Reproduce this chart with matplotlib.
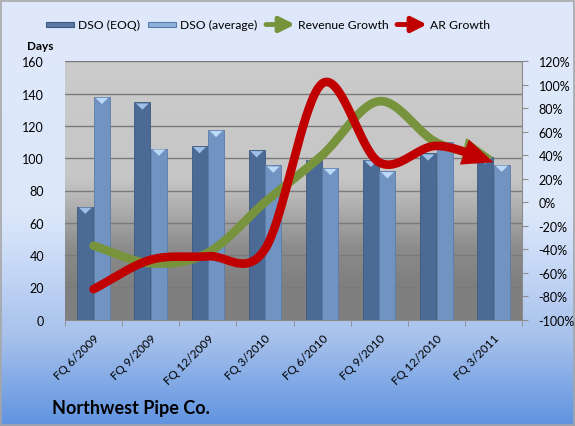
import numpy as np
import matplotlib
matplotlib.use("Agg")
import matplotlib.pyplot as plt
from matplotlib.colors import LinearSegmentedColormap
from matplotlib.patches import Rectangle, FancyBboxPatch

# ---------------- data ----------------
categories = ["FQ 6/2009", "FQ 9/2009", "FQ 12/2009", "FQ 3/2010",
              "FQ 6/2010", "FQ 9/2010", "FQ 12/2010", "FQ 3/2011"]
dso_eoq = [70, 134.5, 107.5, 105, 99, 99, 103, 101]
dso_avg = [138, 106, 117.5, 95.5, 94, 92, 110, 96]
revenue_growth = [-37, -52, -43, 0, 40, 86, 51, 38]      # percent
ar_growth = [-74, -49, -46, -40, 101, 34, 48, 34]        # percent
left_ticks = list(range(0, 161, 20))
right_ticks = list(range(-100, 121, 20))

plt.rcParams['font.family'] = ['Lato', 'DejaVu Sans']

W, H = 575, 427
fig = plt.figure(figsize=(W / 100, H / 100), dpi=100)

# figure background gradient
bg = fig.add_axes([0, 0, 1, 1], zorder=-10)
bg.axis('off')
fig_cmap = LinearSegmentedColormap.from_list(
    'figbg', [(0.0, '#dfe9fb'), (0.50, '#dce7fa'), (0.62, '#c8d9f7'),
              (0.80, '#a5c0eb'), (1.0, '#5f93e0')])
grad = np.linspace(0, 1, 256).reshape(-1, 1)
bg.imshow(grad, cmap=fig_cmap, aspect='auto', extent=[0, 1, 0, 1],
          origin='upper')
bg.set_xlim(0, 1)
bg.set_ylim(0, 1)
bg.add_patch(Rectangle((0.002, 0.002), 0.996, 0.994, fill=False,
                       edgecolor='#a6a6a6', lw=1.2, transform=bg.transAxes))

# main axes
left, right = 65 / W, 522 / W
bottom = (H - 320.7) / H
top = (H - 62.3) / H
ax = fig.add_axes([left, bottom, right - left, top - bottom])
ax.patch.set_visible(False)

plot_cmap = LinearSegmentedColormap.from_list(
    'plotbg', [(0.0, '#cbcbcb'), (0.45, '#c6c6c6'), (0.55, '#b2b2b2'),
               (0.72, '#8c8c8c'), (0.85, '#808080'), (1.0, '#7f7f7f')])
ax.imshow(grad, cmap=plot_cmap, aspect='auto', extent=[0, 1, 0, 1],
          transform=ax.transAxes, origin='upper', zorder=0)

n = len(categories)
x = np.arange(n)
bw = 0.28
ax.bar(x - bw / 2 - 0.005, dso_eoq, width=bw, color='#4b6b96',
       edgecolor='#3d5a80', lw=0.6, zorder=3)
ax.bar(x + bw / 2 + 0.005, dso_avg, width=bw, color='#7193c2',
       edgecolor='#5b7cab', lw=0.6, zorder=3)
# light top caps on the cylinders
for xi, v in zip(x - bw / 2 - 0.005, dso_eoq):
    ax.fill([xi - bw / 2 * 0.8, xi + bw / 2 * 0.8, xi], [v - 0.6, v - 0.6, v - 4.5],
            color='#9fc0e6', zorder=4, lw=0)
for xi, v in zip(x + bw / 2 + 0.005, dso_avg):
    ax.fill([xi - bw / 2 * 0.8, xi + bw / 2 * 0.8, xi], [v - 0.6, v - 0.6, v - 4.5],
            color='#bcdaf5', zorder=4, lw=0)

ax.set_xlim(-0.5, n - 0.5)
ax.set_ylim(0, 160)
ax.set_yticks(left_ticks)
ax.yaxis.grid(True, color='#7a7a7a', lw=1.0, zorder=1)
ax.set_axisbelow(False)
for gl in ax.get_ygridlines():
    gl.set_zorder(1)
ax.tick_params(axis='y', length=0, pad=15, labelsize=9, labelcolor='#000000')
ax.set_xticks(x)
ax.set_xticklabels(categories, rotation=45, ha='right', va='top',
                   rotation_mode='anchor', fontsize=8.5)
ax.set_xticks(np.arange(-0.5, n, 1), minor=True)
ax.tick_params(axis='x', which='major', length=0, pad=9)
ax.tick_params(axis='x', which='minor', length=4, color='#8c8c8c', direction='out')
for s in ['left', 'top', 'right']:
    ax.spines[s].set_visible(False)
ax.spines['bottom'].set_color('#8c8c8c')

ax2 = ax.twinx()
ax2.set_ylim(-100, 120)
ax2.set_yticks(right_ticks)
ax2.set_yticklabels([f"{t}%" for t in right_ticks])
ax2.tick_params(axis='y', length=4, color='#8c8c8c', pad=8, labelsize=9)
for s in ['left', 'top', 'bottom']:
    ax2.spines[s].set_visible(False)
ax2.spines['right'].set_color('#8c8c8c')


def catmull_rom(xs, ys, steps=40):
    xs = np.asarray(xs, float)
    ys = np.asarray(ys, float)
    px = np.concatenate([[2 * xs[0] - xs[1]], xs, [2 * xs[-1] - xs[-2]]])
    py = np.concatenate([[2 * ys[0] - ys[1]], ys, [2 * ys[-1] - ys[-2]]])
    outx, outy = [], []
    t = np.linspace(0, 1, steps)
    for i in range(1, len(px) - 2):
        p0, p1, p2, p3 = py[i - 1], py[i], py[i + 1], py[i + 2]
        m1 = (p2 - p0) / 2
        m2 = (p3 - p1) / 2
        h00 = 2 * t**3 - 3 * t**2 + 1
        h10 = t**3 - 2 * t**2 + t
        h01 = -2 * t**3 + 3 * t**2
        h11 = t**3 - t**2
        outy.append(h00 * p1 + h10 * m1 + h01 * p2 + h11 * m2)
        outx.append(px[i] + t * (px[i + 1] - px[i]))
    return np.concatenate(outx), np.concatenate(outy)


def arrow_line(axis, xs, ys, color, z):
    cx, cy = catmull_rom(xs, ys)
    k = int(len(cx) * 0.95)
    axis.plot(cx[:k + 2], cy[:k + 2], color=color, lw=6.2,
              solid_capstyle='round', zorder=z)
    j = len(cx) - 26
    axis.annotate('', xy=(cx[-1], cy[-1]), xytext=(cx[j], cy[j]),
                  arrowprops=dict(arrowstyle='-|>,head_length=2.2,head_width=0.95',
                                  color=color, lw=0.1, shrinkA=0, shrinkB=0),
                  zorder=z)


arrow_line(ax2, x, revenue_growth, '#77933c', 5)
arrow_line(ax2, x, ar_growth, '#c00000', 6)

# legend (manual, figure pixel coordinates)
def fx(px):
    return px / W


def fy(py):
    return 1 - py / H


ly = 25.5
for (x0, x1, c, ec) in [(46, 74, '#5a7aa5', '#3d5a80'), (148, 176, '#8eb0dc', '#5b7cab')]:
    fig.patches.append(FancyBboxPatch((fx(x0), fy(ly + 2.5)), fx(x1) - fx(x0),
                                      fy(ly - 2.5) - fy(ly + 2.5),
                                      boxstyle='square,pad=0', facecolor=c,
                                      edgecolor=ec, lw=0.8, transform=fig.transFigure))
fig.text(fx(78), fy(ly), "DSO (EOQ)", fontsize=8.7, va='center', ha='left')
fig.text(fx(180), fy(ly), "DSO (average)", fontsize=8.7, va='center', ha='left')
for (x0, x1, c) in [(266, 295, '#77933c'), (397, 427, '#c00000')]:
    bg.annotate('', xy=(fx(x1), fy(ly)), xytext=(fx(x0), fy(ly)),
                xycoords='axes fraction', textcoords='axes fraction',
                arrowprops=dict(arrowstyle='-|>,head_length=0.9,head_width=0.45',
                                color=c, lw=3.5, shrinkA=0, shrinkB=0))
fig.text(fx(298), fy(ly), "Revenue Growth", fontsize=8.7, va='center', ha='left')
fig.text(fx(430), fy(ly), "AR Growth", fontsize=8.7, va='center', ha='left')

fig.text(fx(27), fy(47), "Days", fontsize=8.5, fontweight='bold', va='center', ha='left')
fig.text(fx(52), fy(409), "Northwest Pipe Co.", fontsize=13, fontweight='bold',
         va='center', ha='left')

fig.savefig("out.png", dpi=100)
